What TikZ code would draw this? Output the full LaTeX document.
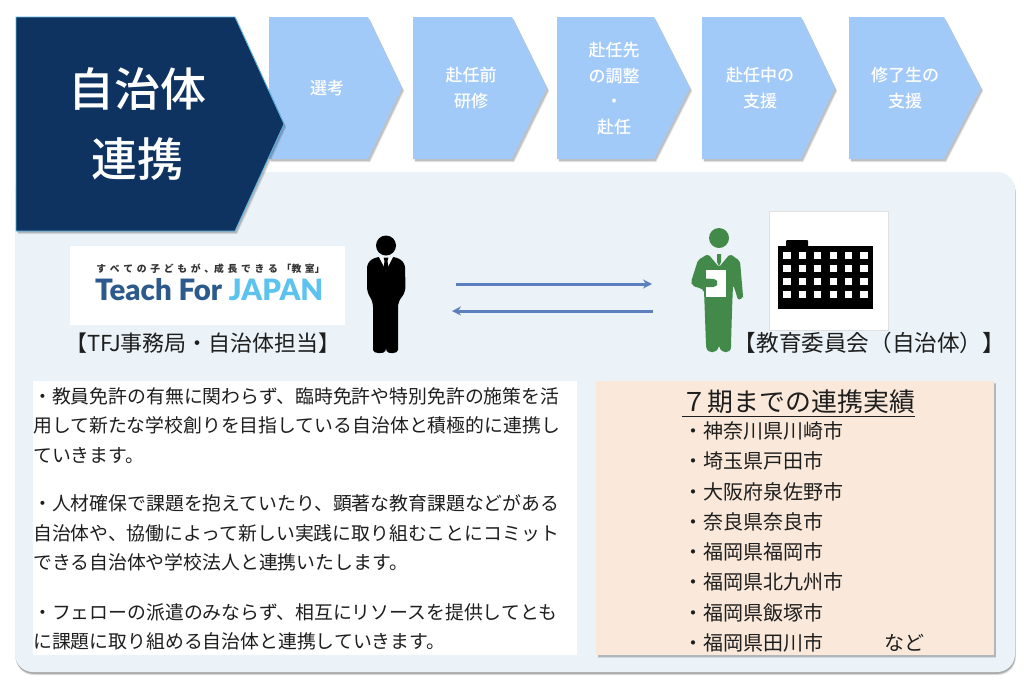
\documentclass[tikz,border=0pt]{standalone}
\usepackage{fontspec}
\usetikzlibrary{arrows.meta,shadows}
\setmainfont{Noto Sans CJK JP}
\newfontfamily\cjkmed{Noto Sans CJK JP Medium}
\newfontfamily\latinbold{Lato Black}[BoldFont={Lato Black}]
\definecolor{navy}{HTML}{0F3361}
\definecolor{navyedge}{HTML}{5BB7E6}
\definecolor{stepblue}{HTML}{A2CAF8}
\definecolor{panelblue}{HTML}{EBF3F8}
\definecolor{peach}{HTML}{FAE9DA}
\definecolor{ink}{HTML}{1E1E1E}
\definecolor{arrowblue}{HTML}{5B80BD}
\definecolor{suit}{HTML}{438A4A}
\definecolor{tfjdark}{HTML}{2C5A8C}
\definecolor{tfjlight}{HTML}{5CC2EE}
\newcommand{\tagsp}{\hspace{3.7pt}}
\tikzset{
  softshadow/.style={
    drop shadow={shadow xshift=2.2pt,shadow yshift=-3.2pt,opacity=.10,fill=black},
    drop shadow={shadow xshift=1.5pt,shadow yshift=-2.2pt,opacity=.16,fill=black}},
  stepbox/.style={fill=stepblue,softshadow},
  steplabel/.style={text=white,align=center,font=\fontsize{17}{25.7}\cjkmed,inner sep=0pt},
  bodyline/.style={text=ink,anchor=west,align=left,inner sep=0pt,font=\fontsize{18.85}{29.3}\selectfont},
  cityline/.style={text=ink,anchor=west,inner sep=0pt,font=\fontsize{20}{24}\selectfont},
  leftcaption/.style={text=ink,inner sep=0pt,font=\fontsize{22}{25}\selectfont},
  rightcaption/.style={text=ink,inner sep=0pt,font=\fontsize{22.6}{25}\selectfont},
  flowarrow/.style={draw=arrowblue,line width=3pt,-{Stealth[length=9pt,width=9pt]}},
}
\begin{document}
\begin{tikzpicture}[x=1pt,y=-1pt]
\useasboundingbox (0,0) rectangle (1024,689);
\fill[white] (0,0) rectangle (1024,689);
% main panel
\fill[panelblue,rounded corners=18pt,
  drop shadow={shadow xshift=0.8pt,shadow yshift=-3pt,opacity=.14,fill=black},
  drop shadow={shadow xshift=0.4pt,shadow yshift=-1.8pt,opacity=.22,fill=black}] (15,172) rectangle (1015,672);
% steps
\path[stepbox] (269,17) -- (368,17) -- (402,88) -- (368,159) -- (269,159) -- cycle;
\path[stepbox] (413,17) -- (512,17) -- (547,88) -- (512,159) -- (413,159) -- cycle;
\path[stepbox] (557,17) -- (654,17) -- (690,88) -- (654,159) -- (557,159) -- cycle;
\path[stepbox] (702,17) -- (801,17) -- (835,88) -- (801,159) -- (702,159) -- cycle;
\path[stepbox] (849,17) -- (944,17) -- (981,88) -- (944,159) -- (849,159) -- cycle;
\node[steplabel] (s1) at (327,88.5) {選考};
\node[steplabel] (s2) at (471,88) {赴任前\\研修};
\node[steplabel] (s3) at (614,88.5) {赴任先\\の調整\\・\\赴任};
\node[steplabel] (s4) at (760,88) {赴任中の\\支援};
\node[steplabel] (s5) at (905,88) {修了生の\\支援};
% head pentagon
\path[fill=navy,draw=navyedge,line width=.8pt,softshadow] (16,17) -- (235,17) -- (284,124) -- (235,231) -- (16,231) -- cycle;
\node[text=white,align=center,inner sep=0pt,font=\fontsize{46}{70}\cjkmed] (head) at (137.5,124.5) {自治体\\連携};
% logo
\fill[white] (70,246) rectangle (345,325);
\node[inner sep=0pt,text=black!80,font=\fontsize{9.8}{12}\selectfont\bfseries] (logotag) at (210.5,269) {す\tagsp べ\tagsp て\tagsp の\tagsp 子\tagsp ど\tagsp も\tagsp が\tagsp 、成\tagsp 長\tagsp で\tagsp き\tagsp る\tagsp 「教\tagsp 室」};
\node[inner sep=0pt,anchor=base west,font=\fontsize{29.4}{30}\latinbold] (logo) at (95,300) {\textcolor{tfjdark}{Teach For} \textcolor{tfjlight}{JAPAN}};
\node[leftcaption] (leftcap) at (203,343) {【TFJ事務局・自治体担当】};
% black person
\fill[black] (386,245.5) circle (10);
\fill[black,rounded corners=5pt] (375,257) -- (397,257) -- (405,263) -- (405.5,292) -- (398,302) -- (398,345) .. controls (398,354) and (387,354) .. (386,346) .. controls (385,354) and (373,354) .. (373,345) -- (373,302) -- (367,292) -- (367,263) -- cycle;
\fill[white] (379,257) -- (393,257) -- (386,270.5) -- cycle;
\fill[black] (383.5,257.5) -- (388.5,257.5) -- (387.5,261) -- (388.5,268) -- (386,270.5) -- (383.5,268) -- (384.5,261) -- cycle;
% connectors
\coordinate (lfrom) at (456,284);
\coordinate (lto) at (652,284);
\coordinate (rfrom) at (653,311);
\coordinate (rto) at (452,311);
\draw[flowarrow] (lfrom) -- (lto);
\draw[flowarrow] (rfrom) -- (rto);
% green person
\fill[suit] (719,238) circle (10);
\fill[suit,rounded corners=2pt] (708,254) -- (719,267) -- (730,254) -- (740,261) -- (743,296) -- (743,298) -- (738,300) -- (735,290) -- (733,285) -- (732,310) -- (731,345) .. controls (731,354) and (721,354) .. (719,345) .. controls (717,354) and (707,354) .. (706,345) -- (704,290) -- (692,285) -- (691,282) -- (698,260) -- cycle;
\fill[suit] (717,254) -- (721,254) -- (721,262) -- (719,266) -- (717,262) -- cycle;
\fill[white] (706,270) rectangle (726,297);
\fill[suit,rounded corners=3pt] (693,278) -- (716,279) -- (718,283) -- (716,287) -- (693,287) -- cycle;
% building
\fill[white,draw=black!12,line width=.5pt] (769,211) rectangle (888,330);
\fill[black] (778,246) rectangle (873,309);
\fill[black,rounded corners=1pt] (786,240) rectangle (808,248);
\foreach \wx in {787,802.3,817.7,833.3,848.7,864}
  \foreach \wy in {255.3,268.3,281.3,294.3}
    \fill[white] (\wx-3.7,\wy-3.7) rectangle (\wx+3.7,\wy+3.7);
\node[rightcaption] (rightcap) at (869.5,343) {【教育委員会（自治体）】};
% text panel
\fill[white] (33,381) rectangle (577,655);
\node[bodyline] (p1) at (33,425.5) {・教員免許の有無に関わらず、臨時免許や特別免許の施策を活\\用して新たな学校創りを目指している自治体と積極的に連携し\\ていきます。};
\node[bodyline] (p2) at (33,533) {・人材確保で課題を抱えていたり、顕著な教育課題などがある\\自治体や、協働によって新しい実践に取り組むことにコミット\\できる自治体や学校法人と連携いたします。};
\node[bodyline] (p3) at (33,627) {・フェローの派遣のみならず、相互にリソースを提供してとも\\に課題に取り組める自治体と連携していきます。};
% results panel
\fill[peach,softshadow] (596,381) rectangle (994,655);
\node[text=ink,inner sep=0pt,font=\fontsize{25.9}{30}\selectfont] (title) at (798.5,402) {７期までの連携実績};
\draw[ink,line width=1pt] (682,416) -- (915,416);
\node[cityline] (c1) at (683,431) {・神奈川県川崎市};
\node[cityline] (c2) at (683,461) {・埼玉県戸田市};
\node[cityline] (c3) at (683,491.5) {・大阪府泉佐野市};
\node[cityline] (c4) at (683,522) {・奈良県奈良市};
\node[cityline] (c5) at (683,552) {・福岡県福岡市};
\node[cityline] (c6) at (683,582) {・福岡県北九州市};
\node[cityline] (c7) at (683,612.5) {・福岡県飯塚市};
\node[cityline] (c8) at (683,642.5) {・福岡県田川市};
\node[cityline] (c9) at (884,642.5) {など};
\end{tikzpicture}
\end{document}
